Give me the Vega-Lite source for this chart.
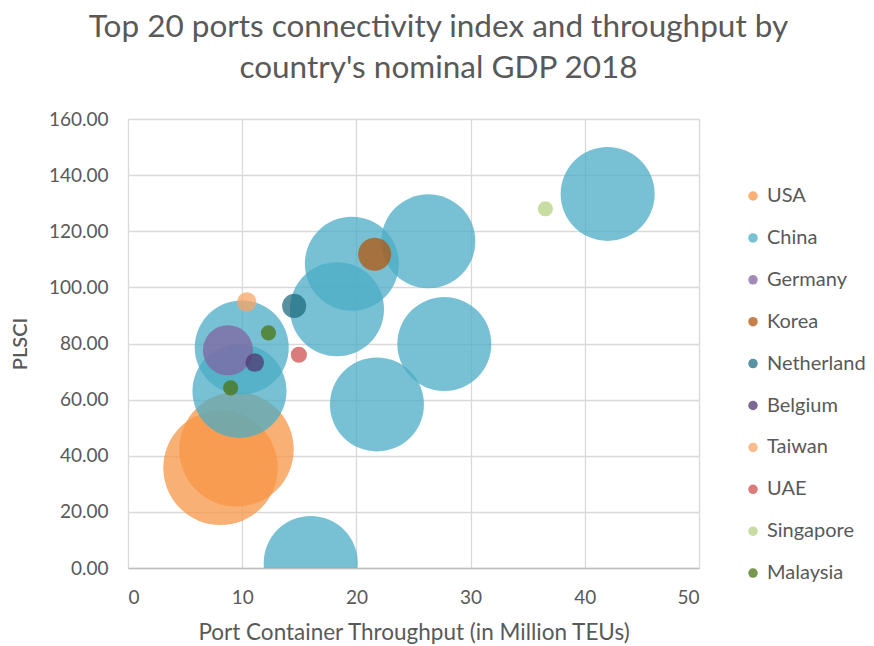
{
  "$schema": "https://vega.github.io/schema/vega-lite/v6.json",
  "autosize": "none",
  "width": 571,
  "height": 449,
  "padding": {"left": 128, "top": 119, "right": 175, "bottom": 78},
  "background": "white",
  "title": {
    "text": ["Top 20 ports connectivity index and throughput by", "country's nominal GDP 2018"],
    "font": "Lato",
    "fontSize": 31.5,
    "fontWeight": "normal",
    "color": "#595959",
    "lineHeight": 41,
    "anchor": "middle",
    "dx": 25,
    "offset": 26
  },
  "config": {
    "view": {"stroke": null},
    "font": "Lato"
  },
  "data": {
    "values": [
      {"country": "USA", "teu": 9.5, "plsci": 42.3, "gdp": 20.58},
      {"country": "USA", "teu": 8.1, "plsci": 35.7, "gdp": 20.58},
      {"country": "China", "teu": 42.0, "plsci": 133.3, "gdp": 13.89},
      {"country": "China", "teu": 26.3, "plsci": 116.4, "gdp": 13.89},
      {"country": "China", "teu": 19.6, "plsci": 108.4, "gdp": 13.89},
      {"country": "China", "teu": 18.3, "plsci": 92.2, "gdp": 13.89},
      {"country": "China", "teu": 27.7, "plsci": 79.8, "gdp": 13.89},
      {"country": "China", "teu": 9.96, "plsci": 78.6, "gdp": 13.89},
      {"country": "China", "teu": 9.76, "plsci": 63.1, "gdp": 13.89},
      {"country": "China", "teu": 21.8, "plsci": 58.3, "gdp": 13.89},
      {"country": "China", "teu": 16.0, "plsci": 1.8, "gdp": 13.89},
      {"country": "Germany", "teu": 8.75, "plsci": 77.6, "gdp": 3.95},
      {"country": "Korea", "teu": 21.6, "plsci": 111.8, "gdp": 1.72},
      {"country": "Netherland", "teu": 14.55, "plsci": 93.4, "gdp": 0.91},
      {"country": "Belgium", "teu": 11.1, "plsci": 73.2, "gdp": 0.54},
      {"country": "Taiwan", "teu": 10.4, "plsci": 94.8, "gdp": 0.59},
      {"country": "UAE", "teu": 14.96, "plsci": 76.0, "gdp": 0.41},
      {"country": "Singapore", "teu": 36.55, "plsci": 128.0, "gdp": 0.36},
      {"country": "Malaysia", "teu": 12.3, "plsci": 83.8, "gdp": 0.36},
      {"country": "Malaysia", "teu": 8.99, "plsci": 64.2, "gdp": 0.36}
    ]
  },
  "mark": {"type": "circle", "opacity": 0.75, "clip": true, "strokeWidth": 0},
  "encoding": {
    "x": {
      "field": "teu",
      "type": "quantitative",
      "title": "Port Container Throughput (in Million TEUs)",
      "scale": {"domain": [0, 50], "nice": false},
      "axis": {
        "values": [0, 10, 20, 30, 40, 50],
        "grid": true,
        "gridColor": "#D9D9D9",
        "gridWidth": 1.3,
        "domainColor": "#BFBFBF",
        "domainWidth": 1.5,
        "ticks": false,
        "labelFont": "Lato",
        "labelFontSize": 19,
        "labelColor": "#595959",
        "labelPadding": 20,
        "titleFont": "Lato",
        "titleFontSize": 22.5,
        "titleFontWeight": "normal",
        "titleColor": "#595959",
        "titlePadding": 14
      }
    },
    "y": {
      "field": "plsci",
      "type": "quantitative",
      "title": "PLSCI",
      "scale": {"domain": [0, 160], "nice": false},
      "axis": {
        "values": [0, 20, 40, 60, 80, 100, 120, 140, 160],
        "format": ".2f",
        "grid": true,
        "gridColor": "#D9D9D9",
        "gridWidth": 1.3,
        "domain": false,
        "ticks": false,
        "labelFont": "Lato",
        "labelFontSize": 19,
        "labelColor": "#595959",
        "labelPadding": 20,
        "titleFont": "Lato",
        "titleFontSize": 20,
        "titleFontWeight": 600,
        "titleColor": "#595959",
        "titlePadding": 18
      }
    },
    "size": {
      "field": "gdp",
      "type": "quantitative",
      "scale": {"type": "linear", "domain": [0, 20.58], "range": [0, 13100], "zero": true},
      "legend": null
    },
    "color": {
      "field": "country",
      "type": "nominal",
      "scale": {
        "domain": ["USA", "China", "Germany", "Korea", "Netherland", "Belgium", "Taiwan", "UAE", "Singapore", "Malaysia"],
        "range": ["#F79646", "#4BACC6", "#8064A2", "#B3560D", "#206C80", "#4F3772", "#F9A463", "#CF5050", "#B5D183", "#4A7410"]
      },
      "legend": {
        "title": null,
        "orient": "none",
        "legendX": 615,
        "legendY": 67,
        "symbolType": "circle",
        "symbolSize": 90,
        "symbolOpacity": 0.75,
        "symbolStrokeWidth": 0,
        "labelFont": "Lato",
        "labelFontSize": 20,
        "labelColor": "#595959",
        "labelOffset": 4,
        "rowPadding": 21.9
      }
    }
  }
}
